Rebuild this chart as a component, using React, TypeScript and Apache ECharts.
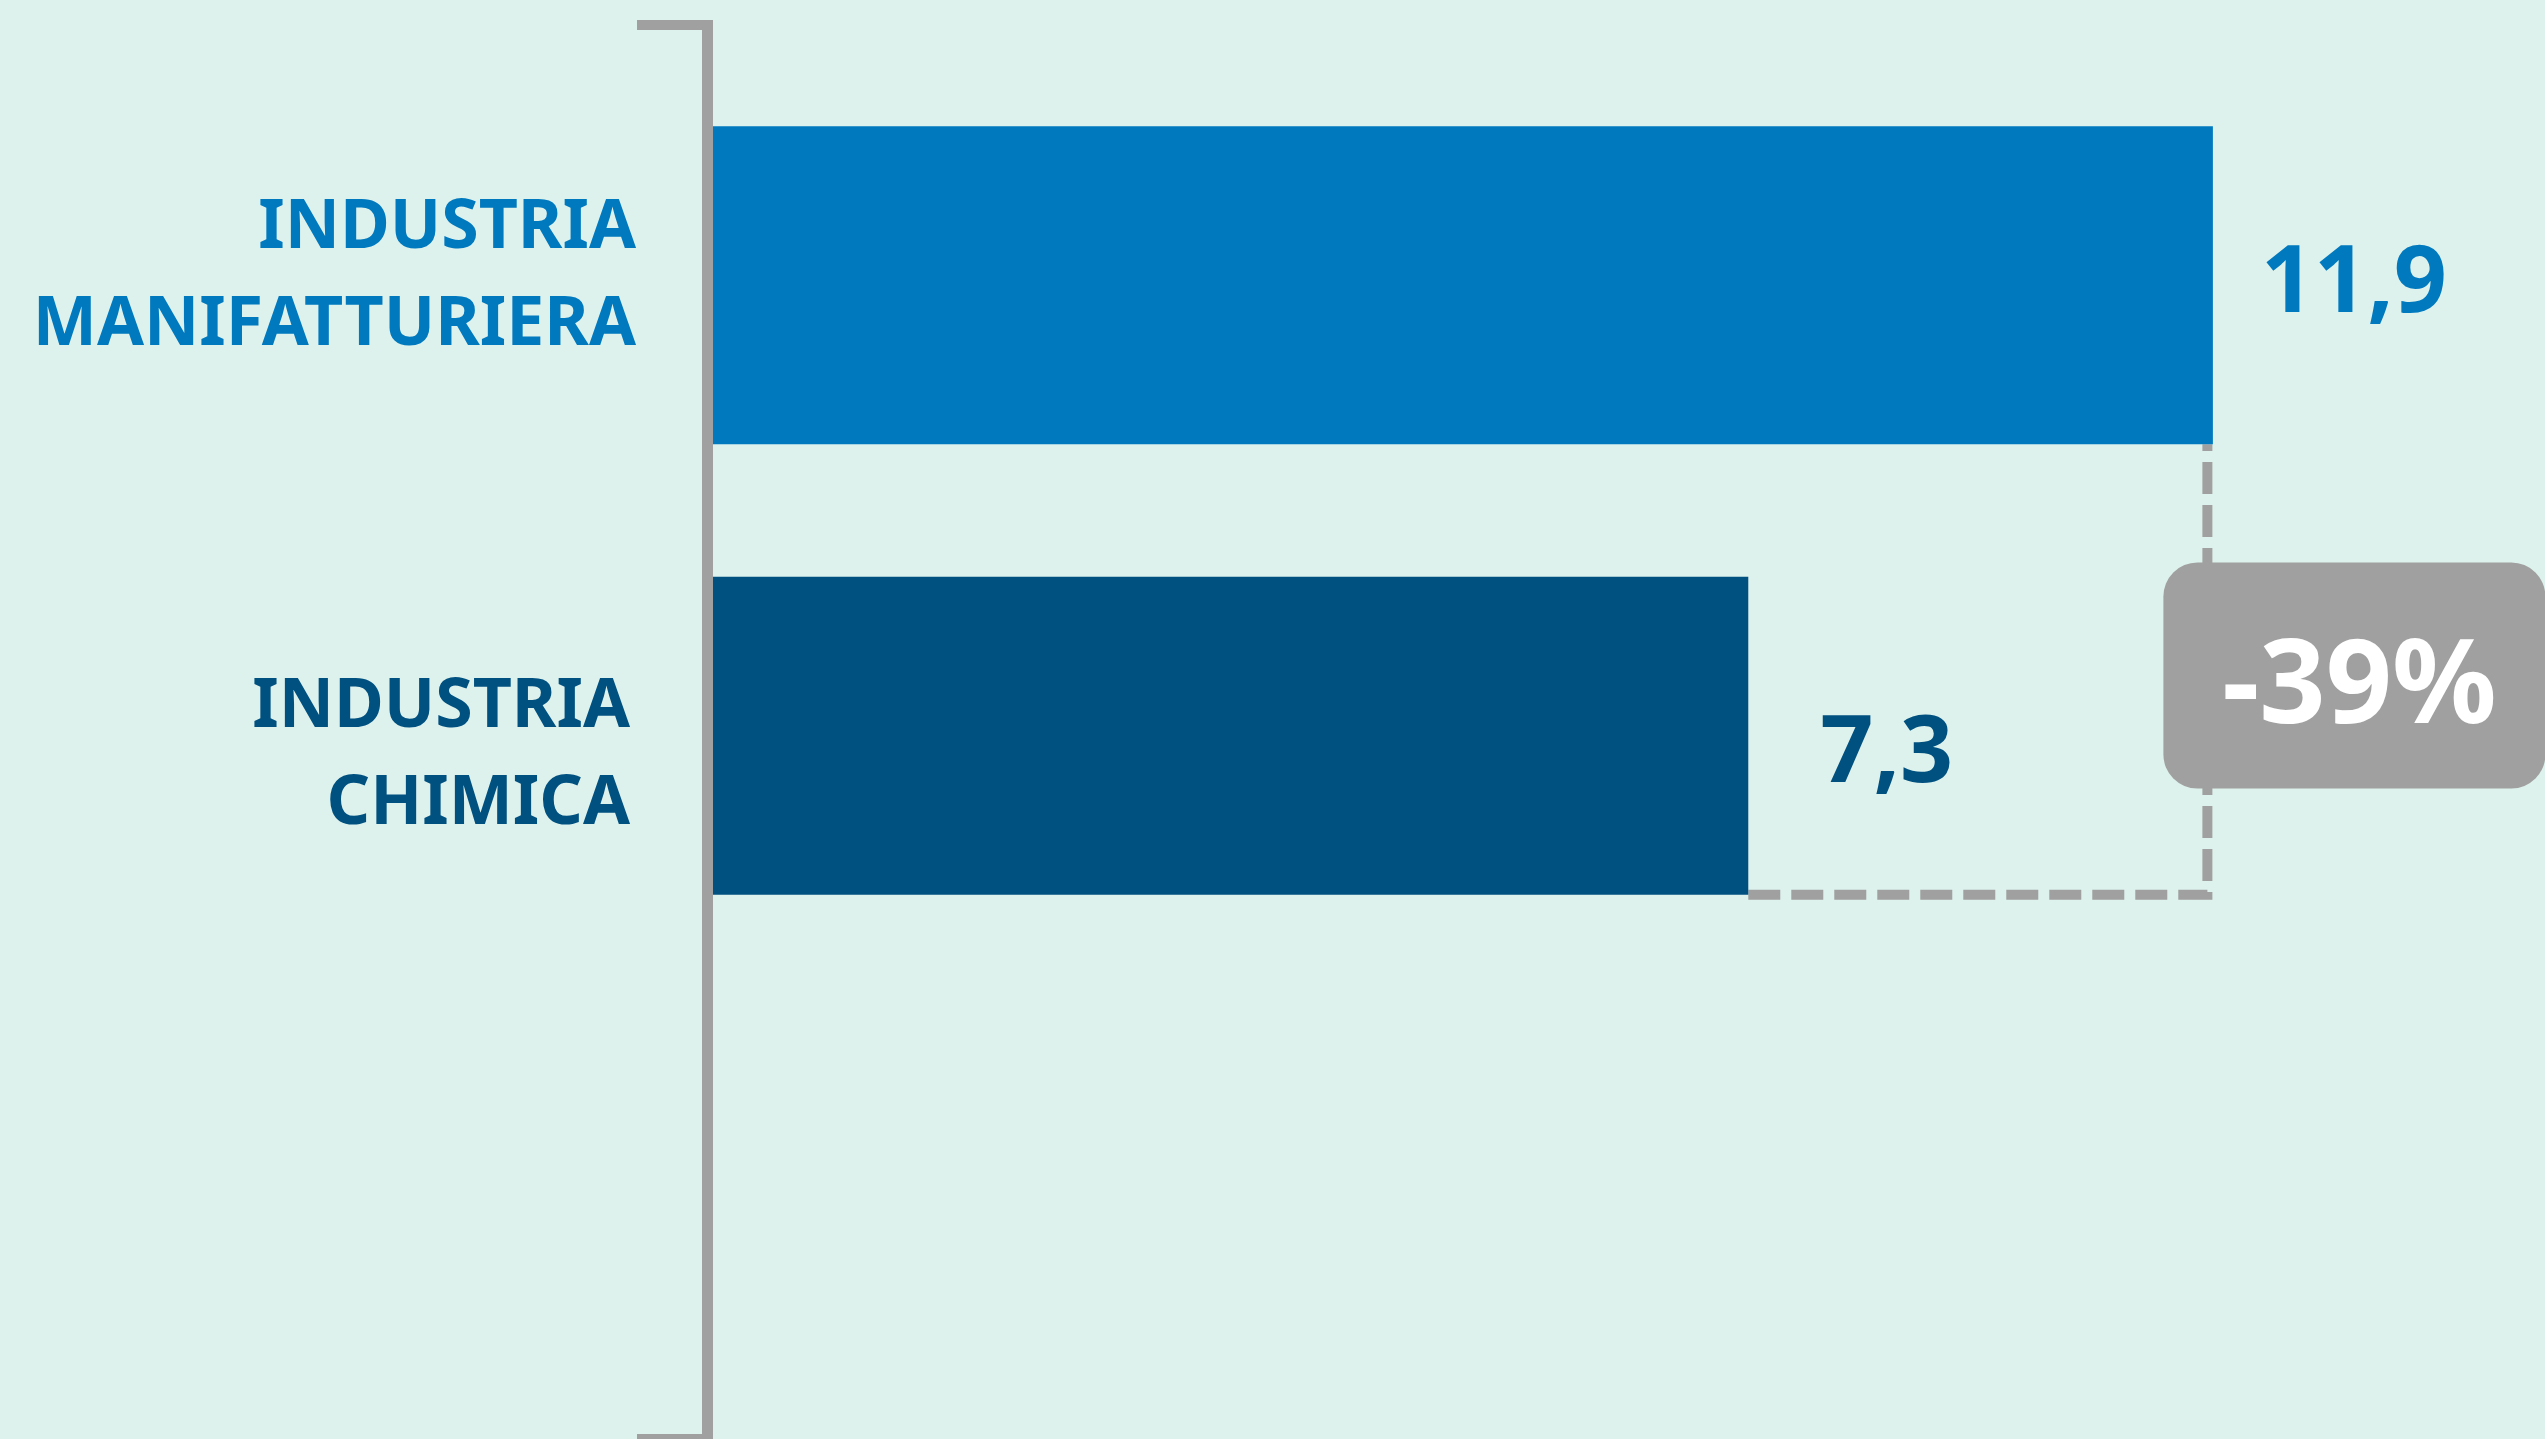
import React, { useEffect, useRef } from 'react';
import * as echarts from 'echarts';

const categories = ['INDUSTRIA\nMANIFATTURIERA', 'INDUSTRIA\nCHIMICA'];
const values = [11.9, 7.3];

const barColors = ['#0079BF', '#005080'];
const labelColors = ['#0079BF', '#005080'];
const labelDx = [48, 72];
const labelDy = [-9, 10];
const axisStart = -2.95;
const axisEnd = 15;
const barRatio = 0.706;
const grey = '#A0A0A0';
const FONT = '"Noto Sans", "Open Sans", sans-serif';

const fmt = (v: number) => v.toFixed(1).replace('.', ',');

export default function App() {
  const ref = useRef<HTMLDivElement>(null);
  useEffect(() => {
    document.body.style.margin = '0';
    const chart = echarts.init(ref.current!, null, { renderer: 'svg' });
    const option: any = {
      animation: false,
      backgroundColor: '#DDF2EC',
      grid: { left: 713, right: 19, top: 60, bottom: 478 },
      xAxis: { type: 'value', min: axisStart, max: axisEnd, show: false },
      yAxis: {
        type: 'category',
        inverse: true,
        data: categories.map((c, i) => ({
          value: c,
          textStyle: { color: labelColors[i] },
        })),
        axisLine: { show: false },
        axisTick: { show: false },
        splitLine: { show: false },
        axisLabel: {
          margin: 77,
          fontFamily: FONT,
          fontWeight: 'bold',
          fontSize: 68,
          lineHeight: 97,
          align: 'right',
          formatter: (v: string, i: number) => {
            const lines = v.split('\n').map((l) => `{c${i}|${l}}`).join('\n');
            return i === 0 ? `${lines}\n{s0| }` : `{s1| }\n${lines}`;
          },
          rich: {
            s0: { lineHeight: 30, fontSize: 1 },
            s1: { lineHeight: 26, fontSize: 1 },
            c0: {
              color: labelColors[0], fontFamily: FONT, fontWeight: 'bold', fontSize: 68,
              lineHeight: 97, padding: [0, 0, 0, 0],
            },
            c1: {
              color: labelColors[1], fontFamily: FONT, fontWeight: 'bold', fontSize: 68,
              lineHeight: 97, padding: [0, 6, 0, 0],
            },
          },
        },
      },
      series: [
        {
          type: 'custom',
          data: values.map((v, i) => [v, i]),
          encode: { x: 0, y: 1 },
          renderItem: (params: any, api: any) => {
            const v = api.value(0);
            const idx = api.value(1);
            const end = api.coord([v, idx]);
            const start = api.coord([axisStart, idx]);
            const band = api.size([0, 1])[1];
            const h = band * barRatio;
            return {
              type: 'group',
              children: [
                {
                  type: 'rect',
                  shape: { x: start[0], y: end[1] - h / 2, width: end[0] - start[0], height: h },
                  style: { fill: barColors[idx] },
                },
                {
                  type: 'text',
                  x: end[0] + labelDx[idx],
                  y: end[1] + labelDy[idx],
                  style: {
                    text: fmt(v),
                    fill: labelColors[idx],
                    fontFamily: FONT,
                    fontWeight: 'bold',
                    fontSize: 93,
                    align: 'left',
                    verticalAlign: 'middle',
                  },
                },
              ],
            };
          },
        },
      ],
    };
    chart.setOption(option);

    const p1 = chart.convertToPixel({ gridIndex: 0 }, [values[0], 0]) as number[];
    const p2 = chart.convertToPixel({ gridIndex: 0 }, [values[1], 1]) as number[];
    const band = p2[1] - p1[1];
    const h = band * barRatio;
    const b1 = p1[1] + h / 2;
    const b2 = p2[1] + h / 2;
    const vx = p1[0] - 5.5;
    const mid = (b1 + b2) / 2;
    const pct = Math.round(((values[1] - values[0]) / values[0]) * 100);
    const H = 1439;

    chart.setOption({
      graphic: [
        { type: 'line', shape: { x1: 707.5, y1: 20, x2: 707.5, y2: H }, style: { stroke: grey, lineWidth: 11 } },
        { type: 'line', shape: { x1: 637, y1: 25, x2: 713, y2: 25 }, style: { stroke: grey, lineWidth: 10 } },
        { type: 'line', shape: { x1: 637, y1: H, x2: 713, y2: H }, style: { stroke: grey, lineWidth: 10 } },
        {
          type: 'polyline',
          shape: { points: [[p2[0], b2], [vx, b2], [vx, b1]] },
          style: { stroke: grey, lineWidth: 10, lineDash: [32, 11], fill: null },
        },
        {
          type: 'rect',
          shape: { x: vx - 44, y: mid - 107, width: 382, height: 226, r: 34 },
          style: { fill: grey },
        },
        {
          type: 'text',
          x: vx - 44 + 196,
          y: mid + 8,
          style: {
            text: `${pct}%`,
            fill: '#FFFFFF',
            fontFamily: FONT,
            fontWeight: 'bold',
            fontSize: 116,
            align: 'center',
            verticalAlign: 'middle',
          },
        },
      ],
    });

    return () => chart.dispose();
  }, []);
  return <div ref={ref} style={{ width: 2545, height: 1439 }} />;
}
